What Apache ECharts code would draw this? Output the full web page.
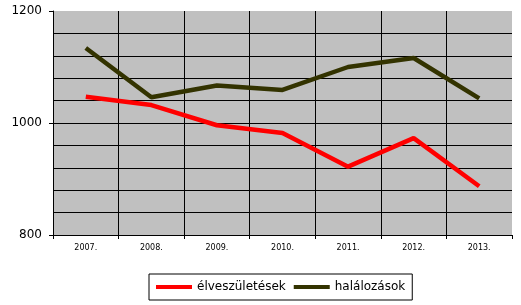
<!DOCTYPE html>
<html>
<head>
<meta charset="utf-8">
<script src="https://cdn.jsdelivr.net/npm/echarts@6/dist/echarts.min.js"></script>
<style>html,body{margin:0;padding:0;background:#fff;}#c{width:521px;height:305px;}</style>
</head>
<body>
<div id="c"></div>
<script>
const categories = ['2007.', '2008.', '2009.', '2010.', '2011.', '2012.', '2013.'];
const elveszuletesek = [1047, 1032, 996, 982, 922, 973, 887];
const halalozasok = [1134, 1046, 1067, 1059, 1100, 1116, 1044];
const seriesNames = ['élveszületések', 'halálozások'];

const chart = echarts.init(document.getElementById('c'), null, {renderer: 'canvas'});
chart.setOption({
  animation: false,
  grid: {left: 53, right: 9, top: 11, bottom: 70, show: true, backgroundColor: '#C0C0C0', borderWidth: 0},
  legend: {
    data: seriesNames,
    left: 149, top: 274,
    padding: [7, 7],
    itemGap: 8,
    itemWidth: 36, itemHeight: 4,
    icon: 'rect',
    borderColor: '#000', borderWidth: 1, backgroundColor: '#fff',
    textStyle: {fontFamily: 'DejaVu Sans', fontSize: 12, color: '#000'}
  },
  xAxis: {
    type: 'category',
    data: categories,
    boundaryGap: true,
    axisLine: {show: true, lineStyle: {color: '#000', width: 1}},
    axisTick: {show: true, length: 4, lineStyle: {color: '#000'}},
    axisLabel: {fontFamily: 'DejaVu Sans', fontSize: 8, color: '#000', margin: 9},
    splitLine: {show: true, showMaxLine: false, lineStyle: {color: '#000', width: 1}}
  },
  yAxis: {
    type: 'value',
    min: 800, max: 1200, interval: 200,
    axisLine: {show: true, lineStyle: {color: '#000', width: 1}},
    axisTick: {show: true, length: 4, lineStyle: {color: '#000'}},
    axisLabel: {fontFamily: 'DejaVu Sans', fontSize: 12, color: '#000', margin: 11,
                formatter: function (v) { return String(v); }},
    splitLine: {show: true, showMaxLine: false, lineStyle: {color: ['#000', '#000', 'rgba(0,0,0,0)'], width: 1}},
    minorTick: {show: false, splitNumber: 5},
    minorSplitLine: {show: true, lineStyle: {color: '#000', width: 1}}
  },
  series: [
    {name: seriesNames[0], type: 'line', data: elveszuletesek, showSymbol: false, symbol: 'none',
     lineStyle: {color: '#FF0000', width: 4.5}, itemStyle: {color: '#FF0000'}},
    {name: seriesNames[1], type: 'line', data: halalozasok, showSymbol: false, symbol: 'none',
     lineStyle: {color: '#333300', width: 4.5}, itemStyle: {color: '#333300'}}
  ]
});
</script>
</body>
</html>
